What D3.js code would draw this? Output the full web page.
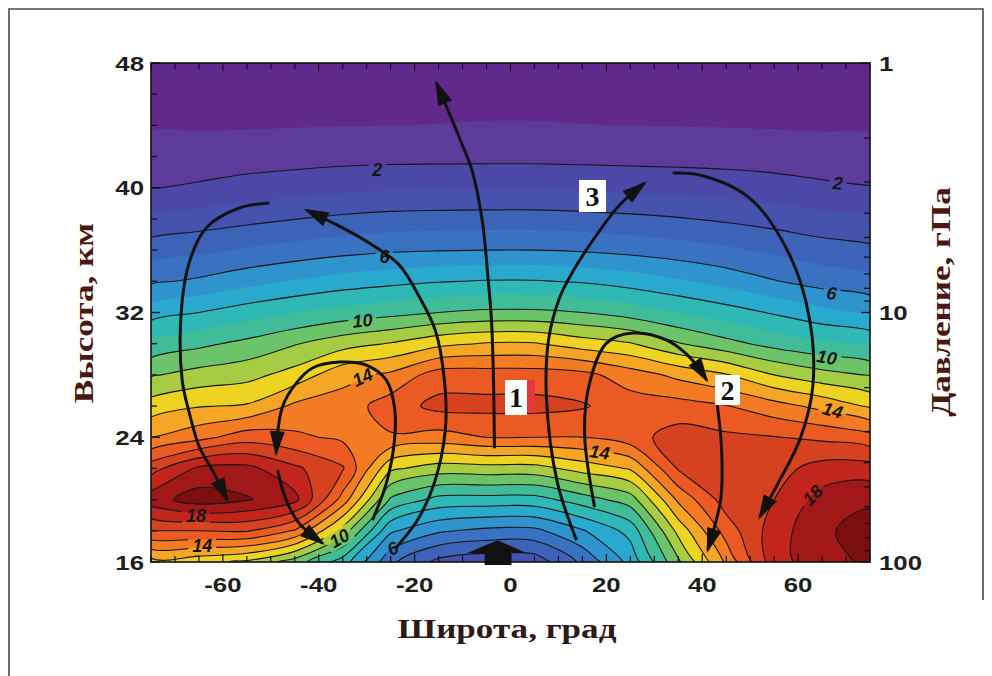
<!DOCTYPE html>
<html lang="ru">
<head>
<meta charset="utf-8">
<title>Озон: широтно-высотный разрез</title>
<script src="https://cdn.jsdelivr.net/npm/d3@7/dist/d3.min.js"></script>
<style>
  html, body { margin: 0; padding: 0; background: #ffffff; }
  svg { display: block; }
</style>
</head>
<body>
<svg id="chart" width="992" height="676"></svg>
<script>
// Grid columns (latitude, deg) and rows (altitude, km)
const latitudes = [-75, -65, -55, -45, -35, -25, -15, -5, 5, 15, 25, 35, 45, 55, 65, 75];
const altitudes = [48, 46, 44, 42, 40, 38, 36, 34, 32, 30, 28, 26, 24, 22, 20, 18, 16];

// Ozone concentration, one row per altitude from 48 km down to 16 km
const ozone = [
  [0.3, 0.3, 0.3, 0.3, 0.3, 0.3, 0.3, 0.3, 0.3, 0.3, 0.3, 0.3, 0.3, 0.3, 0.3, 0.3],
  [0.55, 0.55, 0.55, 0.55, 0.6, 0.6, 0.62, 0.65, 0.65, 0.63, 0.62, 0.6, 0.58, 0.55, 0.52, 0.5],
  [0.9, 0.9, 0.92, 0.95, 0.98, 1.0, 1.02, 1.06, 1.06, 1.02, 1.0, 0.98, 0.95, 0.92, 0.88, 0.85],
  [1.4, 1.46, 1.54, 1.6, 1.66, 1.7, 1.72, 1.73, 1.73, 1.7, 1.67, 1.65, 1.62, 1.56, 1.48, 1.42],
  [1.96, 2.13, 2.36, 2.55, 2.75, 2.87, 2.89, 2.9, 2.9, 2.84, 2.76, 2.67, 2.55, 2.39, 2.18, 2.04],
  [3.22, 3.46, 3.73, 3.98, 4.21, 4.36, 4.42, 4.45, 4.45, 4.37, 4.24, 4.07, 3.85, 3.6, 3.32, 3.13],
  [4.53, 4.8, 5.11, 5.4, 5.67, 5.86, 5.95, 6.0, 6.0, 5.9, 5.71, 5.46, 5.16, 4.82, 4.46, 4.23],
  [5.83, 6.17, 6.65, 7.07, 7.45, 7.72, 7.94, 8.07, 8.07, 7.9, 7.56, 7.12, 6.63, 6.06, 5.6, 5.33],
  [7.56, 8.0, 8.53, 8.99, 9.39, 9.69, 10.0, 10.2, 10.2, 10.0, 9.56, 9.0, 8.46, 7.89, 7.29, 6.84],
  [9.28, 9.77, 10.27, 10.93, 11.6, 12.07, 12.73, 13.08, 13.08, 12.5, 12.08, 11.08, 10.33, 9.66, 9.2, 8.84],
  [10.9, 11.37, 11.66, 12.4, 13.67, 14.2, 15.5, 15.5, 15.5, 15.3, 14.5, 13.75, 13.08, 12.0, 11.36, 10.93],
  [12.45, 12.94, 13.1, 14.2, 14.45, 15.5, 16.3, 16.3, 16.3, 16.1, 15.5, 15.4, 15.05, 14.4, 13.7, 12.86],
  [14.0, 14.67, 15.54, 15.2, 14.8, 14.9, 14.6, 15.0, 15.0, 15.0, 15.6, 16.45, 16.2, 16.04, 15.8, 15.38],
  [16.6, 18.2, 18.3, 17.2, 16.1, 12.2, 11.5, 11.6, 11.6, 12.4, 13.1, 16.1, 16.8, 16.6, 17.4, 17.45],
  [18.55, 19.5, 19.1, 18.3, 14.6, 9.85, 8.67, 8.6, 8.6, 9.5, 10.5, 14.2, 16.5, 17.0, 18.4, 18.8],
  [16.0, 16.0, 16.1, 14.9, 11.6, 7.15, 6.14, 5.75, 5.75, 6.9, 8.35, 12.3, 15.45, 17.5, 18.8, 19.5],
  [12.6, 12.3, 11.8, 10.5, 8.5, 5.2, 3.7, 3.3, 3.4, 5.2, 7.3, 10.8, 14.2, 17.6, 18.6, 19.2]
];

// Filled bands start at each level
const fillLevels = [1, 2, 3, 4, 5, 6, 7, 8, 9, 10, 11, 12, 13, 14, 15, 16, 17, 18, 19];
// Isolines: even levels everywhere, every level from 10 up; odd low levels only in the lower layer
const lineLevels = [2, 4, 6, 8, 10, 11, 12, 13, 14, 15, 16, 17, 18, 19];
const lowerLineLevels = [3, 5, 7, 9];
const lowerLayerTop = 24;
const bandColors = [
  "#60298b", "#5d3b9b", "#4b48a8", "#4552ae", "#3d63b8", "#3972c0", "#2f94cd",
  "#2aa9cf", "#2fb9b6", "#40bd98", "#6cc46a", "#a6cc44", "#eed422", "#f5a624",
  "#f27b24", "#eb5a22", "#d6421f", "#c2251c", "#a21818", "#7c0e10"
];

// Axis ticks
const altTicks = [16, 24, 32, 40, 48];
const altMinor = [16, 18, 20, 22, 24, 26, 28, 30, 32, 34, 36, 38, 40, 42, 44, 46, 48];
const latTicks = [-60, -40, -20, 0, 20, 40, 60];
const latMinor = [-75, -70, -65, -60, -55, -50, -45, -40, -35, -30, -25, -20, -15, -10, -5, 0,
                  5, 10, 15, 20, 25, 30, 35, 40, 45, 50, 55, 60, 65, 70, 75];
const pressureTicks = [1, 10, 100];
const pressureMinor = [2, 3, 4, 5, 6, 7, 8, 9, 20, 30, 40, 50, 60, 70, 80, 90];

// Isoline labels: value, position (lat, alt) and tilt
const contourLabels = [
  { text: "2",  lat: -27.8, alt: 41.14, angle: 0 },
  { text: "2",  lat: 68.3,  alt: 40.3,  angle: 5 },
  { text: "6",  lat: -26.3, alt: 35.56, angle: 0 },
  { text: "6",  lat: 67.0,  alt: 33.25, angle: 8 },
  { text: "10", lat: -30.9, alt: 31.5,  angle: -5 },
  { text: "10", lat: 66.0,  alt: 29.14, angle: 10 },
  { text: "14", lat: -30.9, alt: 27.86, angle: -25 },
  { text: "14", lat: 67.2,  alt: 25.74, angle: 15 },
  { text: "14", lat: 18.6,  alt: 23.05, angle: 8 },
  { text: "14", lat: -64.3, alt: 17.08, angle: 0 },
  { text: "18", lat: -65.6, alt: 19.0,  angle: 0 },
  { text: "18", lat: 63.0,  alt: 20.3,  angle: -45 },
  { text: "10", lat: -35.7, alt: 17.53, angle: -30 },
  { text: "6",  lat: -24.6, alt: 16.89, angle: -25 }
];

// Circulation streamlines (lat, alt), each ending in an arrowhead
const circulation = [
  [[-50.3, 39.02], [-56.6, 38.7], [-63.5, 37.42], [-67.0, 35.24], [-68.7, 32.03], [-68.5, 27.67],
   [-67.0, 25.55], [-64.9, 23.37], [-62.2, 21.89], [-59.1, 19.97]],
  [[-23.8, 16.95], [-19.4, 18.69], [-15.9, 21.06], [-13.6, 24.46], [-13.8, 27.67], [-15.7, 30.87],
   [-19.0, 32.99], [-23.2, 35.04], [-28.8, 36.33], [-35.7, 37.54], [-42.6, 38.57]],
  [[-28.8, 18.69], [-25.9, 21.06], [-24.2, 23.82], [-24.2, 25.93], [-25.9, 27.67], [-30.1, 28.63],
   [-35.7, 28.82], [-41.3, 28.44], [-44.7, 27.47], [-47.6, 25.93], [-48.9, 22.98]],
  [[-48.6, 21.89], [-46.8, 19.97], [-44.1, 18.49], [-39.2, 17.21]],
  [[-3.34, 23.3], [-3.55, 27.67], [-3.97, 31.51], [-4.8, 34.59], [-5.85, 37.8], [-7.93, 41.01],
   [-10.65, 43.19], [-15.45, 46.72]],
  [[13.78, 17.4], [9.81, 21.06], [7.52, 26.38], [7.93, 30.23], [10.23, 32.93], [12.94, 34.59],
   [17.95, 36.97], [22.76, 38.89], [27.97, 40.3]],
  [[17.54, 19.52], [15.45, 24.27], [16.49, 27.47], [20.04, 30.04], [25.47, 30.68], [32.57, 30.23],
   [37.37, 29.14], [40.92, 27.67]],
  [[43.01, 26.38], [44.05, 23.18], [43.84, 19.97], [41.13, 16.76]],
  [[33.82, 40.94], [39.46, 40.82], [49.9, 39.34], [58.25, 35.68], [62.42, 31.52], [63.05, 27.22],
   [60.33, 23.82], [56.16, 21.25], [51.98, 18.88]]
];

// Upwelling block arrow at the equator (outline in lat, alt)
const upwelling = [[-2.7, 17.4], [3.3, 16.57], [0.2, 16.57], [0.2, 15.8], [-5.4, 15.8], [-5.4, 16.57], [-9.0, 16.57]];

// Numbered cells
const cellTags = [
  { text: "1", lat: 1.15, alt: 26.55, w: 22, h: 35, side: true },
  { text: "2", lat: 45.27, alt: 27.03, w: 25, h: 30 },
  { text: "3", lat: 17.1, alt: 39.47, w: 27, h: 32 }
];

const svg = d3.select("#chart");
const x = d3.scaleLinear().domain([-75, 75]).range([151, 870]);
const y = d3.scaleLinear().domain([16, 48]).range([562, 63]);
const p = d3.scaleLog().domain([100, 1]).range([562, 63]);
const [x0, x1] = x.range();
const [y0, y1] = [y.range()[1], y.range()[0]];

// Outer figure border
svg.append("path")
  .attr("d", `M9,676 L9,9 L983,9 L983,600`)
  .attr("fill", "none").attr("stroke", "#4a4a4a").attr("stroke-width", 1.6);

const defs = svg.append("defs");
defs.append("clipPath").attr("id", "plotClip")
  .append("rect").attr("x", x0).attr("y", y0).attr("width", x1 - x0).attr("height", y1 - y0);
defs.append("clipPath").attr("id", "lowerClip")
  .append("rect").attr("x", x0).attr("y", y(lowerLayerTop)).attr("width", x1 - x0).attr("height", y1 - y(lowerLayerTop));

defs.append("marker")
  .attr("id", "head").attr("viewBox", "-26 -9 30 18")
  .attr("markerWidth", 30).attr("markerHeight", 18)
  .attr("refX", 0).attr("refY", 0)
  .attr("orient", "auto").attr("markerUnits", "userSpaceOnUse")
  .append("path").attr("d", "M3,0 L-22,-7.5 L-22,7.5 Z").attr("fill", "#111");

// Gaps in the isolines under their labels
const gapMask = defs.append("mask").attr("id", "labelGaps")
  .attr("maskUnits", "userSpaceOnUse").attr("x", 0).attr("y", 0).attr("width", 992).attr("height", 676);
gapMask.append("rect").attr("width", 992).attr("height", 676).attr("fill", "white");
contourLabels.forEach(d => {
  const w = d.text.length * 11 + 6;
  gapMask.append("rect")
    .attr("x", -w / 2).attr("y", -9).attr("width", w).attr("height", 18).attr("fill", "black")
    .attr("transform", `translate(${x(d.lat)},${y(d.alt)}) rotate(${d.angle})`);
});

// Contours on the grid, mapped from grid units to the chart scales
const nx = latitudes.length, ny = altitudes.length;
const dLat = latitudes[1] - latitudes[0];
const dAlt = altitudes[0] - altitudes[1];
const toPx = ([gx, gy]) => [x(latitudes[0] + (gx - 0.5) * dLat), y(altitudes[0] - (gy - 0.5) * dAlt)];
const bands = d3.contours().size([nx, ny]).thresholds(fillLevels)(ozone.flat());
const closedCurve = d3.line().curve(d3.curveCatmullRomClosed.alpha(0.5));

function pathOf(geom) {
  let s = "";
  for (const poly of geom.coordinates) {
    for (const ring of poly) {
      const pts = ring.slice(0, -1).map(toPx);
      const clean = pts.filter((pt, i) => i === 0 ||
        Math.hypot(pt[0] - pts[i - 1][0], pt[1] - pts[i - 1][1]) > 0.01);
      if (clean.length > 2) s += closedCurve(clean);
    }
  }
  return s;
}

const field = svg.append("g").attr("clip-path", "url(#plotClip)");
field.append("rect").attr("x", x0).attr("y", y0).attr("width", x1 - x0).attr("height", y1 - y0)
  .attr("fill", bandColors[0]);
field.selectAll("path.band").data(bands).join("path")
  .attr("class", "band")
  .attr("d", pathOf)
  .attr("fill-rule", "evenodd")
  .attr("fill", d => bandColors[d.value]);

const isoMasked = svg.append("g").attr("mask", "url(#labelGaps)");
isoMasked.append("g").attr("clip-path", "url(#plotClip)")
  .selectAll("path").data(bands.filter(b => lineLevels.includes(b.value))).join("path")
  .attr("d", pathOf)
  .attr("fill", "none").attr("stroke", "#151515").attr("stroke-width", 1.1);
isoMasked.append("g").attr("clip-path", "url(#lowerClip)")
  .selectAll("path").data(bands.filter(b => lowerLineLevels.includes(b.value))).join("path")
  .attr("d", pathOf)
  .attr("fill", "none").attr("stroke", "#151515").attr("stroke-width", 1.1);

// Isoline labels
svg.append("g").selectAll("text").data(contourLabels).join("text")
  .attr("transform", d => `translate(${x(d.lat)},${y(d.alt)}) rotate(${d.angle})`)
  .attr("y", 6.5)
  .attr("text-anchor", "middle")
  .attr("font-family", "Liberation Sans, Arial, sans-serif")
  .attr("font-weight", "bold").attr("font-style", "italic").attr("font-size", 18)
  .attr("fill", "#151515")
  .text(d => d.text);

// Circulation arrows
const stream = d3.line().curve(d3.curveCatmullRom.alpha(0.5)).x(d => x(d[0])).y(d => y(d[1]));
svg.append("g").selectAll("path").data(circulation).join("path")
  .attr("d", stream)
  .attr("fill", "none").attr("stroke", "#111").attr("stroke-width", 3)
  .attr("marker-end", "url(#head)");

svg.append("path")
  .attr("d", "M" + upwelling.map(d => [x(d[0]), y(d[1])].join(",")).join("L") + "Z")
  .attr("fill", "#111");

// Numbered cells
const tags = svg.append("g");
cellTags.forEach(d => {
  const cx = x(d.lat), cy = y(d.alt);
  tags.append("rect").attr("x", cx - d.w / 2).attr("y", cy - d.h / 2).attr("width", d.w).attr("height", d.h)
    .attr("fill", "#ffffff");
  if (d.side) {
    tags.append("rect").attr("x", cx + d.w / 2).attr("y", cy - d.h / 2).attr("width", 8).attr("height", d.h - 2)
      .attr("fill", "#e4383a");
  }
  tags.append("text").attr("x", cx).attr("y", cy + 10)
    .attr("text-anchor", "middle")
    .attr("font-family", "Liberation Serif, Times New Roman, serif")
    .attr("font-weight", "bold").attr("font-size", 28).attr("fill", "#111")
    .text(d.text);
});

// Plot frame and inward ticks
const frame = svg.append("g").attr("stroke", "#111").attr("fill", "none");
frame.append("rect").attr("x", x0).attr("y", y0).attr("width", x1 - x0).attr("height", y1 - y0)
  .attr("stroke-width", 1.6);
altMinor.forEach(v => {
  const len = altTicks.includes(v) ? 9 : 6;
  frame.append("line").attr("x1", x0).attr("x2", x0 + len).attr("y1", y(v)).attr("y2", y(v)).attr("stroke-width", 1.3);
});
pressureTicks.concat(pressureMinor).forEach(v => {
  const len = pressureTicks.includes(v) ? 9 : 6;
  frame.append("line").attr("x1", x1).attr("x2", x1 - len).attr("y1", p(v)).attr("y2", p(v)).attr("stroke-width", 1.3);
});
latMinor.forEach(v => {
  const len = latTicks.includes(v) ? 8 : 6;
  frame.append("line").attr("x1", x(v)).attr("x2", x(v)).attr("y1", y1).attr("y2", y1 - len).attr("stroke-width", 1.2);
  frame.append("line").attr("x1", x(v)).attr("x2", x(v)).attr("y1", y0).attr("y2", y0 + len).attr("stroke-width", 1.2);
});

// Tick labels (wide bold sans)
const tickFont = g => g.attr("font-family", "Liberation Sans, Arial, sans-serif")
  .attr("font-weight", "bold").attr("font-size", 21).attr("fill", "#1e1e1e");
const labels = svg.append("g").call(tickFont);
altTicks.forEach(v => labels.append("text")
  .attr("transform", `translate(144,${y(v) + 7.5}) scale(1.23,1)`)
  .attr("text-anchor", "end").text(v));
pressureTicks.forEach(v => labels.append("text")
  .attr("transform", `translate(879,${p(v) + 7.5}) scale(1.23,1)`)
  .attr("text-anchor", "start").text(v));
latTicks.forEach(v => labels.append("text")
  .attr("transform", `translate(${x(v)},592) scale(1.23,1)`)
  .attr("text-anchor", "middle").text(v));

// Axis titles
const titleFont = (g, color) => g.attr("font-family", "Liberation Serif, Times New Roman, serif")
  .attr("font-weight", "bold").attr("font-size", 27).attr("fill", color);
svg.append("text").call(titleFont, "#4a1812")
  .attr("transform", "translate(84,313) rotate(-90) scale(1.3,1)")
  .attr("y", 9).attr("text-anchor", "middle").text("Высота, км");
svg.append("text").call(titleFont, "#4a1812")
  .attr("transform", "translate(941,302) rotate(-90) scale(1.3,1)")
  .attr("y", 9).attr("text-anchor", "middle").text("Давление, гПа");
svg.append("text").call(titleFont, "#2e1818")
  .attr("transform", "translate(507,638) scale(1.3,1)")
  .attr("text-anchor", "middle").text("Широта, град");
</script>
</body>
</html>
